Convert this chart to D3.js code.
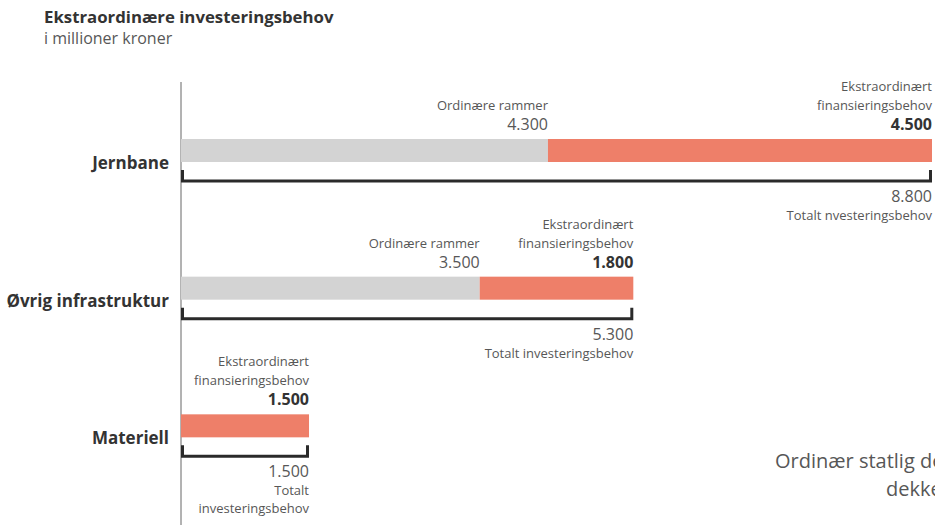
<!DOCTYPE html>
<html>
<head>
<meta charset="utf-8">
<script src="https://cdn.jsdelivr.net/npm/d3@7"></script>
<style>
  body { margin: 0; background: #fff; }
  svg { font-family: "Open Sans", Lato, sans-serif; }
</style>
</head>
<body>
<svg width="935" height="525"></svg>
<script>
// Data
const categories = ["Jernbane", "Øvrig infrastruktur", "Materiell"];
const ordinary = [4300, 3500, 0];
const extra = [4500, 1800, 1500];
const totals = [8800, 5300, 1500];
const totalLabels = [["Totalt nvesteringsbehov"], ["Totalt investeringsbehov"], ["Totalt", "investeringsbehov"]];

const fmt = v => d3.format(",")(v).replace(/,/g, ".");

const svg = d3.select("svg");
const ink = "#333";
const grey = "#575757";

const x = d3.scaleLinear().domain([0, 8800]).range([181, 932]);
const y = d3.scaleBand().domain(categories).range([81, 494]);

// Titles
svg.append("text").attr("x", 44).attr("y", 23)
  .attr("font-size", 16.8).attr("font-weight", "bold").attr("fill", ink)
  .text("Ekstraordinære investeringsbehov");
svg.append("text").attr("x", 44).attr("y", 44)
  .attr("font-size", 16).attr("fill", grey)
  .text("i millioner kroner");

// vertical base line
svg.append("line")
  .attr("x1", x(0)).attr("x2", x(0))
  .attr("y1", 82).attr("y2", 525)
  .attr("stroke", "#666").attr("stroke-width", 1);

const barH = 23;
const small = 13, num = 16;

categories.forEach((cat, i) => {
  const top = y(cat) + 58;
  const g = svg.append("g");

  // bars
  if (ordinary[i] > 0) {
    g.append("rect")
      .attr("x", x(0)).attr("y", top)
      .attr("width", x(ordinary[i]) - x(0)).attr("height", barH)
      .attr("fill", "#d3d3d3");
  }
  g.append("rect")
    .attr("x", x(ordinary[i])).attr("y", top)
    .attr("width", x(ordinary[i] + extra[i]) - x(ordinary[i])).attr("height", barH)
    .attr("fill", "#ee7f69");

  // category label
  g.append("text")
    .attr("x", 169).attr("y", top + 30)
    .attr("text-anchor", "end")
    .attr("font-size", 17).attr("font-weight", "bold").attr("fill", ink)
    .text(cat);

  // bracket
  const by = top + 42;
  g.append("path")
    .attr("d", `M${x(0) + 1.5},${by - 11}V${by}H${x(totals[i]) - 1.5}V${by - 11}`)
    .attr("fill", "none").attr("stroke", "#2a2a2a").attr("stroke-width", 3);

  // ordinary label
  if (ordinary[i] > 0) {
    g.append("text")
      .attr("x", x(ordinary[i])).attr("y", top - 29)
      .attr("text-anchor", "end").attr("font-size", small).attr("fill", grey)
      .text("Ordinære rammer");
    g.append("text")
      .attr("x", x(ordinary[i])).attr("y", top - 9)
      .attr("text-anchor", "end").attr("font-size", num).attr("fill", grey)
      .text(fmt(ordinary[i]));
  }

  // extra label
  const ex = x(ordinary[i] + extra[i]);
  g.append("text")
    .attr("x", ex).attr("y", top - 48)
    .attr("text-anchor", "end").attr("font-size", small).attr("fill", grey)
    .text("Ekstraordinært");
  g.append("text")
    .attr("x", ex).attr("y", top - 29)
    .attr("text-anchor", "end").attr("font-size", small).attr("fill", grey)
    .text("finansieringsbehov");
  g.append("text")
    .attr("x", ex).attr("y", top - 9)
    .attr("text-anchor", "end").attr("font-size", num).attr("font-weight", "bold").attr("fill", ink)
    .text(fmt(extra[i]));

  // total label
  const tx = x(totals[i]);
  g.append("text")
    .attr("x", tx).attr("y", by + 21)
    .attr("text-anchor", "end").attr("font-size", num).attr("fill", grey)
    .text(fmt(totals[i]));
  totalLabels[i].forEach((t, j) => {
    g.append("text")
      .attr("x", tx).attr("y", by + 39 + j * 18)
      .attr("text-anchor", "end").attr("font-size", small).attr("fill", grey)
      .text(t);
  });
});

// clipped text from the neighbouring panel
svg.append("text").attr("x", 775).attr("y", 468)
  .attr("font-size", 20).attr("fill", grey)
  .text("Ordinær statlig dekning");
svg.append("text").attr("x", 886).attr("y", 496)
  .attr("font-size", 20).attr("fill", grey)
  .text("dekker");
</script>
</body>
</html>
